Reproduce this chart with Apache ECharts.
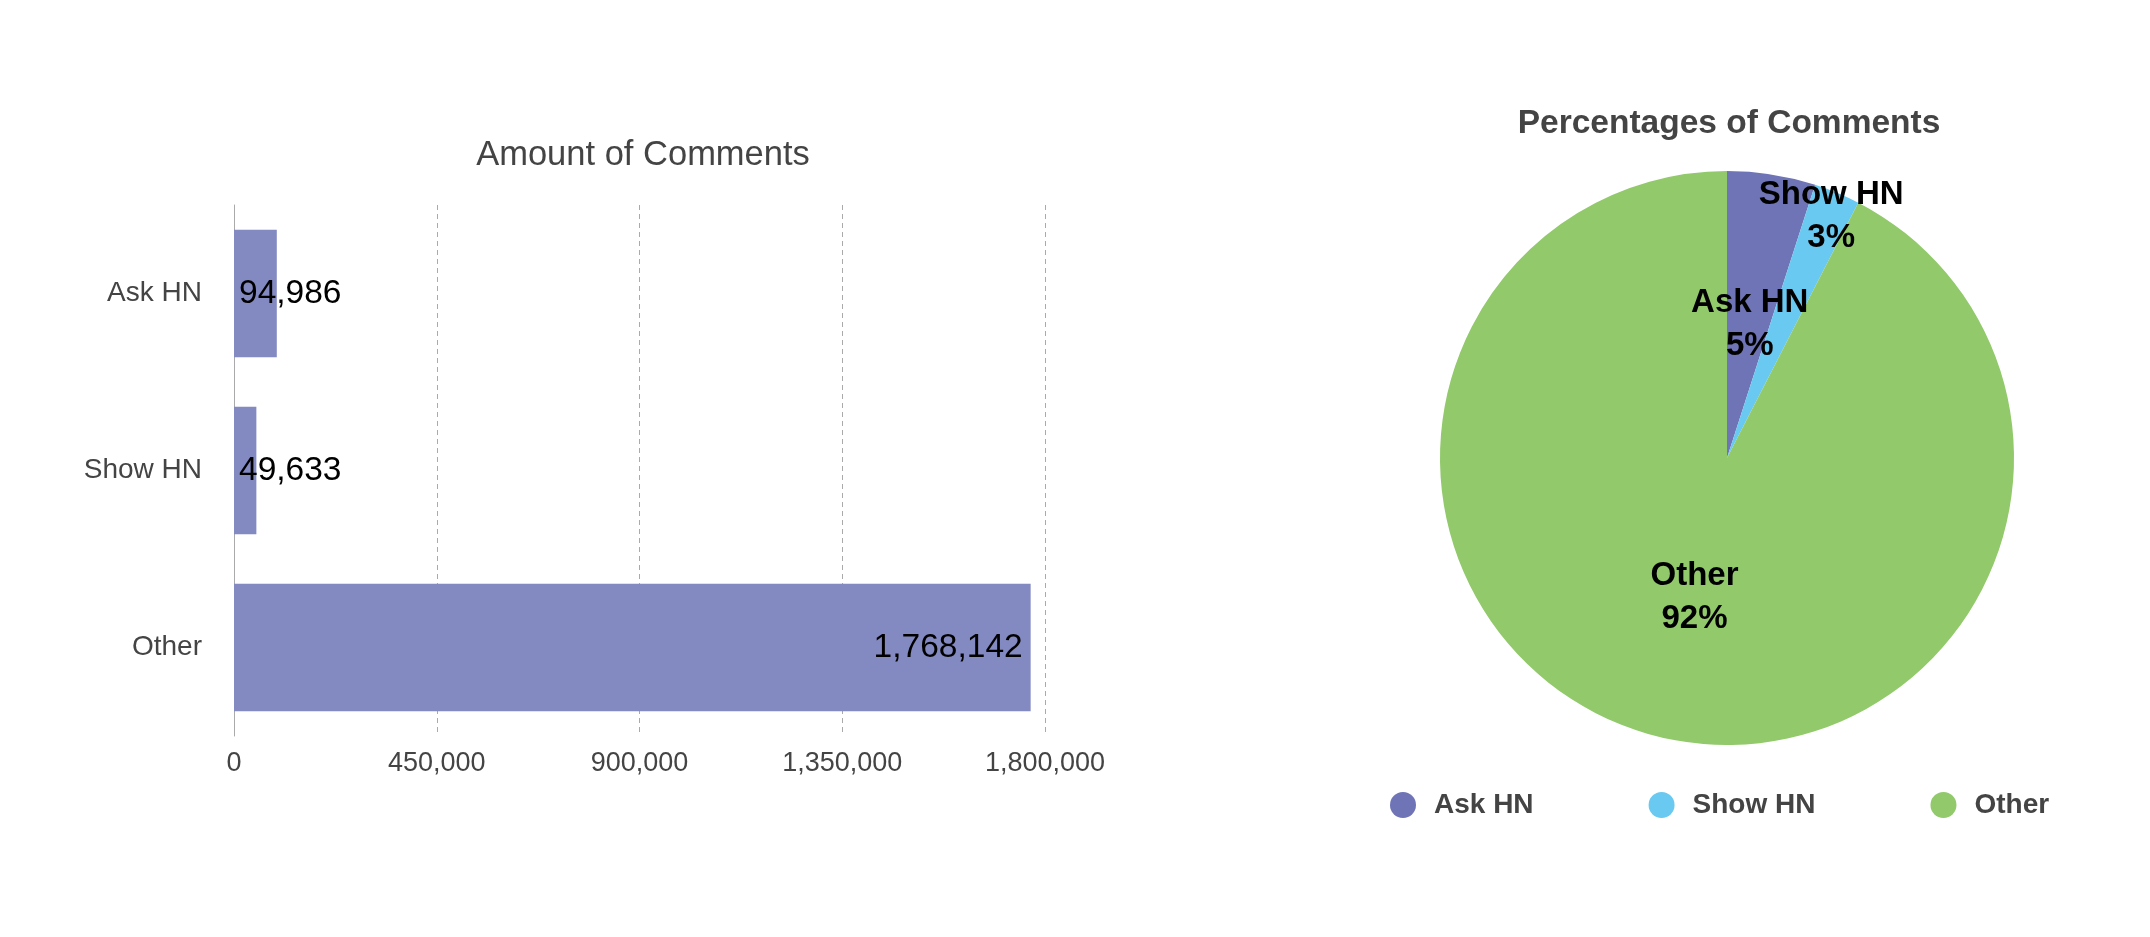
<!DOCTYPE html>
<html>
<head>
<meta charset="utf-8">
<script src="https://cdn.jsdelivr.net/npm/echarts@6/dist/echarts.min.js"></script>
<style>
html,body{margin:0;padding:0;background:#fff;}
#chart{width:2150px;height:937px;}
</style>
</head>
<body>
<div id="chart"></div>
<script>
const categories = ['Ask HN', 'Show HN', 'Other'];
const commentCounts = [94986, 49633, 1768142];
const xTicks = [0, 450000, 900000, 1350000, 1800000];
const pieColors = ['#6e74b5', '#69c9f0', '#91c96b'];

const FONT = 'Liberation Sans, Arial, Helvetica, sans-serif';
const chart = echarts.init(document.getElementById('chart'));

const barData = commentCounts.map((v, i) => ({
  value: v,
  label: { position: i === 2 ? 'insideRight' : 'insideLeft', distance: i === 2 ? 8 : 5 }
}));

const pieData = categories.map((c, i) => ({
  name: c,
  value: commentCounts[i],
  itemStyle: { color: pieColors[i] }
}));

const pieLabelShift = [
  { dx: 0, dy: 11 },
  { dx: 48, dy: -106 },
  { dx: 2, dy: -3 }
];

chart.setOption({
  animation: false,
  textStyle: { fontFamily: FONT },
  title: [
    {
      text: 'Amount of Comments',
      left: 638, top: 133, textAlign: 'center',
      textStyle: { fontFamily: FONT, fontSize: 34.5, fontWeight: 'normal', color: '#444' }
    },
    {
      text: 'Percentages of Comments',
      left: 1724, top: 102, textAlign: 'center',
      textStyle: { fontFamily: FONT, fontSize: 33.5, fontWeight: 'bold', color: '#444' }
    }
  ],
  grid: { left: 234, right: 1105, top: 205, bottom: 201, containLabel: false },
  xAxis: {
    type: 'value',
    min: xTicks[0], max: xTicks[xTicks.length - 1], interval: xTicks[1] - xTicks[0],
    axisLine: { show: false },
    axisTick: { show: false },
    splitLine: { show: true, lineStyle: { color: '#aaa', type: [5, 4], width: 1 } },
    axisLabel: {
      fontFamily: FONT, fontSize: 27, color: '#444', margin: 14,
      formatter: v => v.toLocaleString('en-US')
    }
  },
  yAxis: {
    type: 'category',
    data: categories,
    inverse: true,
    axisLine: { show: true, lineStyle: { color: '#aaa', width: 1 } },
    axisTick: { show: false },
    axisLabel: { fontFamily: FONT, fontSize: 28, color: '#444', margin: 32 }
  },
  legend: {
    data: categories,
    left: 1385, top: 786,
    icon: 'circle', itemWidth: 26, itemHeight: 26, itemGap: 115,
    textStyle: { fontFamily: FONT, fontSize: 28, fontWeight: 'bold', color: '#444', padding: [0, 0, 0, 13] }
  },
  series: [
    {
      type: 'bar',
      data: barData,
      barCategoryGap: '28%',
      itemStyle: { color: '#8389c1' },
      label: {
        show: true, color: '#000', fontFamily: FONT, fontSize: 33.5,
        formatter: p => p.value.toLocaleString('en-US')
      }
    },
    {
      type: 'pie',
      center: [1727, 458],
      radius: 287,
      startAngle: 90,
      clockwise: true,
      percentPrecision: 0,
      data: pieData,
      label: {
        show: true, position: 'inside', color: '#000', fontFamily: FONT,
        fontSize: 33, fontWeight: 'bold', lineHeight: 43,
        formatter: '{b}\n{d}%'
      },
      labelLine: { show: false },
      labelLayout: function (p) {
        return pieLabelShift[p.dataIndex] || {};
      },
      emphasis: { disabled: true }
    }
  ]
});
</script>
</body>
</html>
